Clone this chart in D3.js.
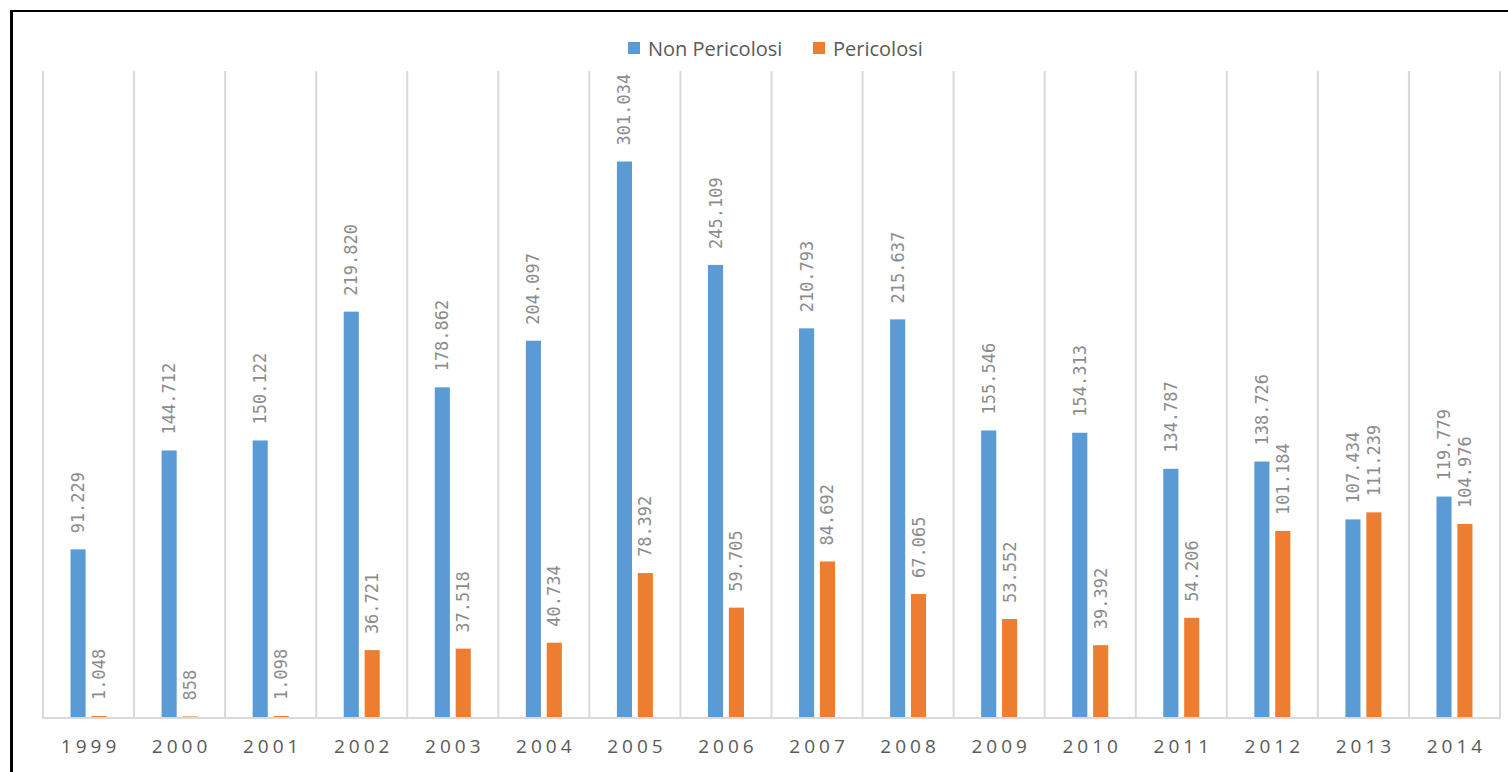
<!DOCTYPE html>
<html>
<head>
<meta charset="utf-8">
<script src="https://cdn.jsdelivr.net/npm/d3@7"></script>
<style>
  html, body { margin: 0; padding: 0; background: #fff; }
  svg { display: block; }
</style>
</head>
<body>
<svg id="chart" width="1508" height="772"></svg>
<script>
// Rifiuti prodotti per anno (tonnellate)
const years = ["1999","2000","2001","2002","2003","2004","2005","2006","2007","2008","2009","2010","2011","2012","2013","2014"];
const nonPericolosi = [91229,144712,150122,219820,178862,204097,301034,245109,210793,215637,155546,154313,134787,138726,107434,119779];
const pericolosi = [1048,858,1098,36721,37518,40734,78392,59705,84692,67065,53552,39392,54206,101184,111239,104976];
const seriesNames = ["Non Pericolosi", "Pericolosi"];
const seriesColors = ["#5b9bd5", "#ed7d31"];
const yMax = 350000;

const svg = d3.select("#chart");
const W = 1508, H = 772;
const plot = { left: 43, right: 1500, top: 71, bottom: 718 };

const it = d3.formatLocale({ decimal: ",", thousands: ".", grouping: [3], currency: ["€", ""] });
const fmt = it.format(",d");

const rows = years.map((y, i) => ({ year: y, values: [nonPericolosi[i], pericolosi[i]] }));

const x = d3.scaleBand().domain(years).range([plot.left, plot.right]).paddingInner(0).paddingOuter(0);
const xi = d3.scaleBand().domain([0, 1]).range([x.bandwidth() / 2 - 18, x.bandwidth() / 2 + 18]).paddingInner(10 / 36);
const y = d3.scaleLinear().domain([0, yMax]).range([plot.bottom, plot.top]);

// frame lines (top and left)
svg.append("line").attr("x1", 11).attr("x2", W).attr("y1", 11).attr("y2", 11)
  .attr("stroke", "#000").attr("stroke-width", 2);
svg.append("line").attr("x1", 11.5).attr("x2", 11.5).attr("y1", 10).attr("y2", H)
  .attr("stroke", "#000").attr("stroke-width", 3);

// vertical category separators
const seps = years.map(d => x(d)).concat([plot.right]);
svg.append("g").selectAll("line").data(seps).join("line")
  .attr("x1", d => d).attr("x2", d => d)
  .attr("y1", plot.top).attr("y2", plot.bottom)
  .attr("stroke", "#d9d9d9").attr("stroke-width", 2);

// bars
const groups = svg.append("g").selectAll("g").data(rows).join("g")
  .attr("transform", d => `translate(${x(d.year)},0)`);

groups.selectAll("rect").data(d => d.values.map((v, k) => ({ v, k }))).join("rect")
  .attr("x", d => xi(d.k))
  .attr("width", xi.bandwidth())
  .attr("y", d => y(d.v))
  .attr("height", d => y(0) - y(d.v))
  .attr("fill", d => seriesColors[d.k]);

// value labels, rotated
groups.selectAll("text").data(d => d.values.map((v, k) => ({ v, k }))).join("text")
  .attr("transform", d => `translate(${xi(d.k) + xi.bandwidth() / 2},${y(d.v) - 16}) rotate(-90)`)
  .attr("dominant-baseline", "central")
  .attr("text-anchor", "start")
  .attr("font-family", "DejaVu Sans Mono, monospace")
  .attr("font-size", 17)
  .attr("fill", "#8c8c8c")
  .text(d => fmt(d.v));

// x axis
const xAxis = svg.append("g").attr("transform", `translate(0,${plot.bottom})`)
  .call(d3.axisBottom(x).tickSize(0).tickPadding(22));
xAxis.select(".domain").attr("stroke", "#d9d9d9").attr("stroke-width", 2)
  .attr("d", `M${plot.left - 1},0H${plot.right + 1}`);
xAxis.selectAll("text")
  .attr("font-family", "Open Sans, sans-serif")
  .attr("font-size", 19)
  .attr("letter-spacing", "4px")
  .attr("dx", "2px")
  .attr("fill", "#595959")
  .attr("dy", "0.71em");

// legend
const legend = svg.append("g").attr("transform", "translate(628,48)");
const legendX = [0, 185];
seriesNames.forEach((name, k) => {
  const g = legend.append("g").attr("transform", `translate(${legendX[k]},0)`);
  g.append("rect").attr("x", 0).attr("y", -6).attr("width", 12).attr("height", 12).attr("fill", seriesColors[k]);
  g.append("text").attr("x", 20).attr("y", 0).attr("dominant-baseline", "central")
    .attr("font-family", "Open Sans, sans-serif").attr("font-size", 20).attr("fill", "#595959")
    .text(name);
});
</script>
</body>
</html>
